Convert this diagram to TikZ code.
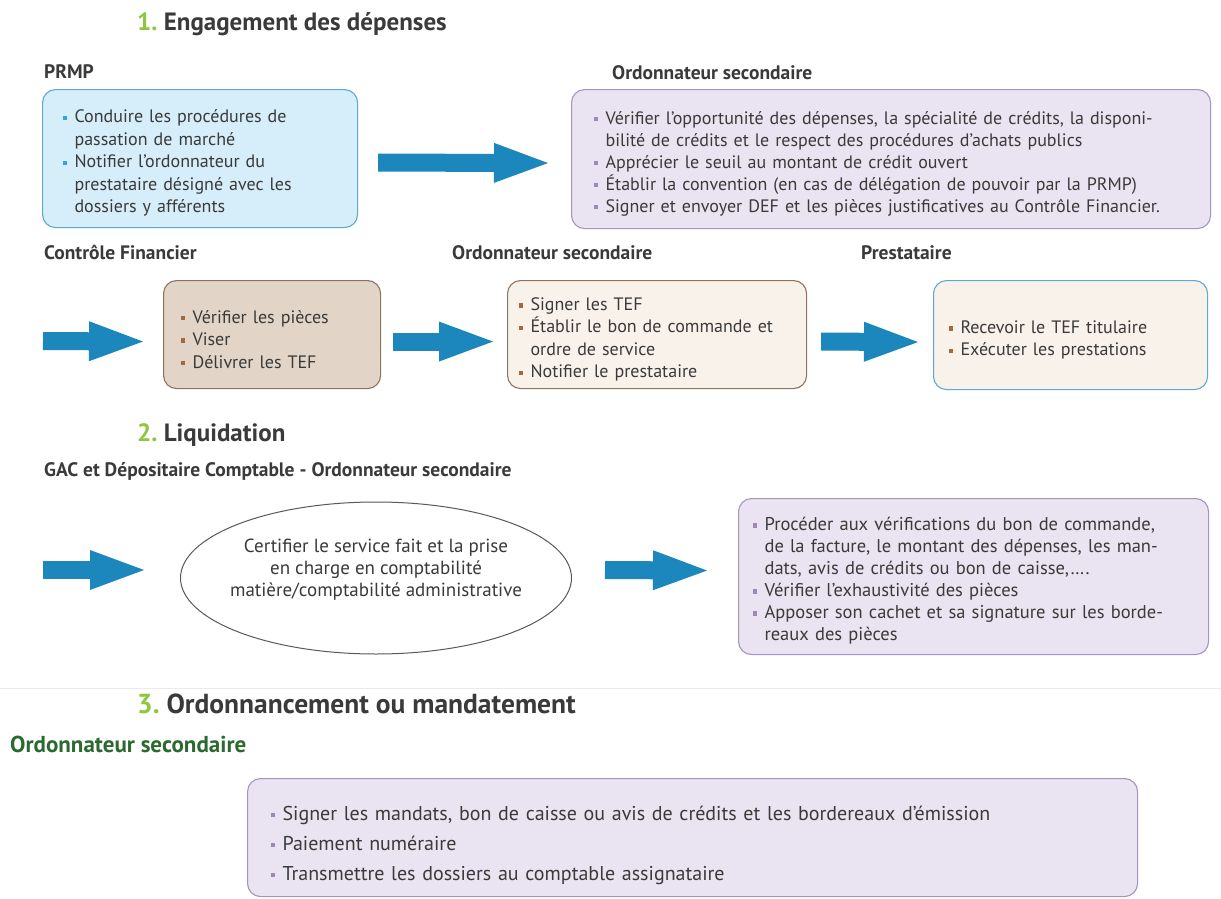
\documentclass[tikz,border=0pt]{standalone}
\usepackage{fontspec}
\setmainfont{PT Sans}
\usepackage{tikz}
\usetikzlibrary{arrows.meta,shapes.geometric,positioning}
\tikzset{>={Triangle[length=54pt,width=40pt,line width=0pt]}}

\definecolor{flowblue}{HTML}{1B87BD}
\definecolor{txtgray}{HTML}{3A3A3A}
\definecolor{numgreen}{HTML}{8DC63F}
\definecolor{darkgreen}{HTML}{2B6A2E}
\definecolor{skyfill}{HTML}{D5EEF9}
\definecolor{skyline}{HTML}{5FA9CD}
\definecolor{lilacfill}{HTML}{EAE3F1}
\definecolor{lilacline}{HTML}{A694C0}
\definecolor{tanfill}{HTML}{E2D5C8}
\definecolor{tanline}{HTML}{8E7360}
\definecolor{creamfill}{HTML}{F9F2EB}
\definecolor{dotblue}{HTML}{3AA3D5}
\definecolor{dotbrown}{HTML}{A4683F}
\definecolor{dotlilac}{HTML}{9C88B9}

% one bullet item, with hanging indent for the following lines
\newcommand\bul[1]{\par\hangindent=12pt\hangafter=1\noindent
  \makebox[12pt][l]{\textcolor{#1}{\rule[0.3ex]{4.5pt}{4.5pt}}}}

\tikzset{
  stepbox/.style={draw, rounded corners=13pt, line width=1.1pt, anchor=north west,
    align=left, inner xsep=6pt, inner ysep=4pt, text=txtgray,
    font=\fontsize{18}{22.5}\selectfont},
  bigarrow/.style={->, line width=18pt, draw=flowblue},
  rolelabel/.style={anchor=base west, inner sep=0pt, text=txtgray,
    font=\bfseries\fontsize{19.5}{22}\selectfont},
  sectitle/.style={anchor=base west, inner sep=0pt, text=txtgray,
    font=\bfseries\fontsize{25}{30}\selectfont},
}

\begin{document}
\begin{tikzpicture}[x=1pt,y=-1pt]

  \fill[white] (0,0) rectangle (1221,899);
  \useasboundingbox (0,0) rectangle (1221,899);

  % 1. Engagement des depenses
  \node[sectitle] (titleA) at (137,31) {\textcolor{numgreen}{1.}\ Engagement des dépenses};

  \node[rolelabel] (labPrmp) at (44,78) {PRMP};
  \node[rolelabel] (labOrdoA) at (612,80) {Ordonnateur secondaire};

  \node[stepbox, fill=skyfill, draw=skyline, text width=303pt, minimum height=138pt]
  (prmp) at (42,89) {\leftskip=14pt
    \bul{dotblue}Conduire les procédures de\newline passation de marché
    \bul{dotblue}Notifier l’ordonnateur du\newline prestataire désigné avec les\newline dossiers y afférents\par};

  \node[stepbox, fill=lilacfill, draw=lilacline, text width=627pt, minimum height=139pt,
  font=\fontsize{18}{22}\selectfont]
  (ordoA) at (571,89) {\leftskip=16pt
    \bul{dotlilac}Vérifier l’opportunité des dépenses, la spécialité de crédits, la disponi-\newline bilité de crédits et le respect des procédures d’achats publics
    \bul{dotlilac}Apprécier le seuil au montant de crédit ouvert
    \bul{dotlilac}Établir la convention (en cas de délégation de pouvoir par la PRMP)
    \bul{dotlilac}Signer et envoyer DEF et les pièces justificatives au Contrôle Financier.\par};

  \draw[bigarrow] ([xshift=20pt,yshift=-4pt]prmp.east) -- ([xshift=-23pt,yshift=-4pt]ordoA.west);

  % second row
  \node[rolelabel] (labCf) at (44,259) {Contrôle Financier};
  \node[rolelabel] (labOrdoB) at (452,259) {Ordonnateur secondaire};
  \node[rolelabel] (labPrest) at (861,259) {Prestataire};

  \node[stepbox, fill=tanfill, draw=tanline, text width=205pt, minimum height=108pt]
  (cf) at (163,280) {\leftskip=11pt
    \bul{dotbrown}Vérifier les pièces
    \bul{dotbrown}Viser
    \bul{dotbrown}Délivrer les TEF\par};

  \node[stepbox, fill=creamfill, draw=tanline, text width=287pt, minimum height=108pt]
  (ordoB) at (507,280) {\leftskip=5pt
    \bul{dotbrown}Signer les TEF
    \bul{dotbrown}Établir le bon de commande et\newline ordre de service
    \bul{dotbrown}Notifier le prestataire\par};

  \node[stepbox, fill=creamfill, draw=skyline, text width=262pt, minimum height=109pt]
  (prest) at (933,280) {\leftskip=9pt
    \bul{dotbrown}Recevoir le TEF titulaire
    \bul{dotbrown}Exécuter les prestations\par};

  \coordinate (inB) at (43,341);
  \draw[bigarrow] (inB) -- ([xshift=-20pt,yshift=-7pt]cf.west);
  \draw[bigarrow] ([xshift=12pt,yshift=-7pt]cf.east) -- ([xshift=-14pt,yshift=-7pt]ordoB.west);
  \draw[bigarrow] ([xshift=14pt,yshift=-7pt]ordoB.east) -- ([xshift=-15pt,yshift=-7pt]prest.west);

  % 2. Liquidation
  \node[sectitle] (titleB) at (137,441) {\textcolor{numgreen}{2.}\ Liquidation};
  \node[rolelabel] (labGac) at (44,476) {GAC et Dépositaire Comptable - Ordonnateur secondaire};

  \node[ellipse, draw=black!65, line width=1pt, fill=white, inner sep=0pt,
  minimum width=391pt, minimum height=152pt, text=txtgray,
  font=\fontsize{19}{22}\selectfont]
  (certif) at (376,578) {\makebox[240pt]{\smash{\raisebox{4pt}{\begin{tabular}{c}
    Certifier le service fait et la prise\\en charge en comptabilité\\matière/comptabilité administrative
    \end{tabular}}}}};

  \node[stepbox, fill=lilacfill, draw=lilacline, text width=458pt, minimum height=156pt,
  font=\fontsize{18.5}{22}\selectfont]
  (liq) at (738,498) {\leftskip=8pt
    \bul{dotlilac}Procéder aux vérifications du bon de commande,\newline de la facture, le montant des dépenses, les man-\newline dats, avis de crédits ou bon de caisse,\dots.
    \bul{dotlilac}Vérifier l’exhaustivité des pièces
    \bul{dotlilac}Apposer son cachet et sa signature sur les borde-\newline reaux des pièces\par};

  \coordinate (inC) at (43,570);
  \draw[bigarrow] (inC) -- ([xshift=-36pt,yshift=8pt]certif.west);
  \draw[bigarrow] ([xshift=33pt,yshift=8pt]certif.east) -- ([xshift=-31pt,yshift=6pt]liq.west);

  % 3. Ordonnancement
  \draw[black!8, line width=1pt] (0,688) -- (1221,688);
  \node[sectitle, font=\bfseries\fontsize{27.5}{32}\selectfont] (titleC) at (137,713)
  {\textcolor{numgreen}{3.}\ Ordonnancement ou mandatement};
  \node[rolelabel, text=darkgreen, font=\bfseries\fontsize{23}{26}\selectfont] (labOrdoC) at (10,752) {Ordonnateur secondaire};

  \node[stepbox, fill=lilacfill, draw=lilacline, text width=878pt, minimum height=118pt,
  font=\fontsize{20}{30}\selectfont]
  (ordoC) at (247,778) {\leftskip=17pt
    \bul{dotlilac}Signer les mandats, bon de caisse ou avis de crédits et les bordereaux d’émission
    \bul{dotlilac}Paiement numéraire
    \bul{dotlilac}Transmettre les dossiers au comptable assignataire\par};

\end{tikzpicture}
\end{document}
